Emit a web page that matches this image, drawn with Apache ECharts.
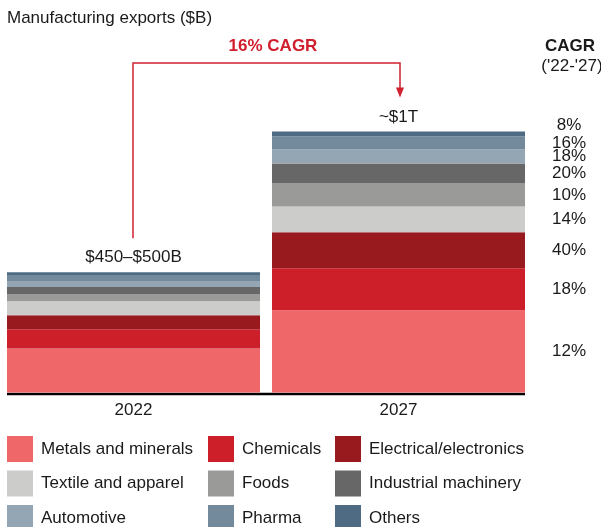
<!DOCTYPE html>
<html>
<head>
<meta charset="utf-8">
<script src="https://cdn.jsdelivr.net/npm/echarts@6/dist/echarts.min.js"></script>
<style>
  html, body { margin: 0; padding: 0; background: #fff; }
  #chart { width: 601px; height: 527px; }
</style>
</head>
<body>
<div id="chart"></div>
<script>
// Manufacturing exports by sector, $B
const categories = ['2022', '2027'];
const sectorNames = [
  'Metals and minerals', 'Chemicals', 'Electrical/electronics',
  'Textile and apparel', 'Foods', 'Industrial machinery',
  'Automotive', 'Pharma', 'Others'
];
const metals = [169, 315];
const chemicals = [73, 161];
const electrical = [54, 138];
const textile = [54, 99];
const foods = [27, 88];
const machinery = [27, 76];
const automotive = [23, 54];
const pharma = [23, 51];
const others = [11, 18];
const cagrLabels = ['12%', '18%', '40%', '14%', '10%', '20%', '18%', '16%', '8%'];
const totalLabels = ['$450–$500B', '~$1T'];
const headlineCagr = '16% CAGR';

const sectorValues = [metals, chemicals, electrical, textile, foods, machinery, automotive, pharma, others];
const sectorColors = ['#F0676A', '#CC1F2A', '#981A1F', '#CCCCCB', '#9A9A98', '#666766', '#94A6B4', '#73899C', '#4F6B84'];

const FONT = '"Liberation Sans", Arial, sans-serif';
const TEXT = '#1a1a1a';
const RED = '#D0202E';
const BAR_W = 253;

const series = sectorNames.map((name, i) => ({
  name: name,
  type: 'bar',
  stack: 'exports',
  barWidth: BAR_W,
  itemStyle: { color: sectorColors[i] },
  emphasis: { disabled: true },
  data: sectorValues[i].map((v, j) => j === 1 ? {
    value: v,
    label: {
      show: true,
      formatter: cagrLabels[i],
      position: [297, i === 8 ? -6 : '50%'],
      align: 'center',
      verticalAlign: 'middle',
      fontSize: 17,
      fontFamily: FONT,
      color: TEXT
    }
  } : v)
}));

// zero-height cap carrying the total labels
series.push({
  name: 'Total',
  type: 'bar',
  stack: 'exports',
  barWidth: BAR_W,
  itemStyle: { color: 'rgba(0,0,0,0)' },
  emphasis: { disabled: true },
  label: {
    show: true,
    position: 'top',
    distance: 6,
    formatter: p => totalLabels[p.dataIndex],
    fontSize: 17,
    fontFamily: FONT,
    color: TEXT
  },
  data: categories.map(() => 0)
});

function legendColumn(left, names) {
  return {
    orient: 'vertical',
    left: left,
    top: 436,
    height: 110,
    padding: 0,
    itemWidth: 26,
    itemHeight: 26,
    itemGap: 8.5,
    icon: 'rect',
    selectedMode: false,
    data: names,
    textStyle: { fontSize: 17, fontFamily: FONT, color: TEXT, padding: [0, 0, 0, 3] }
  };
}

const chart = echarts.init(document.getElementById('chart'), null, { renderer: 'canvas' });

chart.setOption({
  animation: false,
  backgroundColor: '#fff',
  textStyle: { fontFamily: FONT },
  title: [
    {
      text: 'Manufacturing exports ($B)',
      left: 7, top: 10, padding: 0,
      textStyle: { fontSize: 17, fontWeight: 'normal', fontFamily: FONT, color: TEXT }
    },
    {
      text: headlineCagr,
      left: 273, top: 38, padding: 0, textAlign: 'center',
      textStyle: { fontSize: 17, fontWeight: 'bold', fontFamily: FONT, color: RED }
    },
    {
      text: 'CAGR',
      left: 570, top: 38, padding: 0, textAlign: 'center',
      textStyle: { fontSize: 17, fontWeight: 'bold', fontFamily: FONT, color: TEXT }
    },
    {
      text: "('22-'27)",
      left: 572, top: 58, padding: 0, textAlign: 'center',
      textStyle: { fontSize: 17, fontWeight: 'normal', fontFamily: FONT, color: TEXT }
    }
  ],
  legend: [
    legendColumn(7, [sectorNames[0], sectorNames[3], sectorNames[6]]),
    legendColumn(208, [sectorNames[1], sectorNames[4], sectorNames[7]]),
    legendColumn(335, [sectorNames[2], sectorNames[5], sectorNames[8]])
  ],
  grid: { left: 1, right: 70, top: 131.5, bottom: 134.5, containLabel: false },
  xAxis: {
    type: 'category',
    data: categories,
    axisLine: { show: false },
    axisTick: { show: false },
    axisLabel: { fontSize: 17, fontFamily: FONT, color: TEXT, margin: 9 }
  },
  yAxis: {
    type: 'value',
    min: 0,
    max: 1000,
    show: false,
    splitLine: { show: false }
  },
  series: series
});

// baseline and growth arrow, placed from the chart's own scales
function sum(arr, j) { return arr.reduce((s, a) => s + a[j], 0); }
const p0 = chart.convertToPixel({ gridIndex: 0 }, [0, sum(sectorValues, 0)]);
const p1 = chart.convertToPixel({ gridIndex: 0 }, [1, sum(sectorValues, 1)]);
const base = chart.convertToPixel({ gridIndex: 0 }, [0, 0]);
const arrowY = 63;
const gapAbove = 34;
const x0 = p0[0] - 0.5;
const x1 = p1[0] + 1.5;
const tipY = p1[1] - gapAbove;

chart.setOption({
  graphic: [
    {
      type: 'line',
      shape: { x1: p0[0] - BAR_W / 2, y1: base[1] + 1.5, x2: p1[0] + BAR_W / 2, y2: base[1] + 1.5 },
      style: { stroke: '#000', lineWidth: 2.5 }
    },
    {
      type: 'polyline',
      shape: { points: [[x0, p0[1] - gapAbove], [x0, arrowY], [x1, arrowY], [x1, tipY - 9]] },
      style: { stroke: RED, lineWidth: 1.5, fill: null }
    },
    {
      type: 'polygon',
      shape: { points: [[x1 - 4, tipY - 10], [x1 + 4, tipY - 10], [x1, tipY]] },
      style: { fill: RED }
    }
  ]
});
</script>
</body>
</html>
